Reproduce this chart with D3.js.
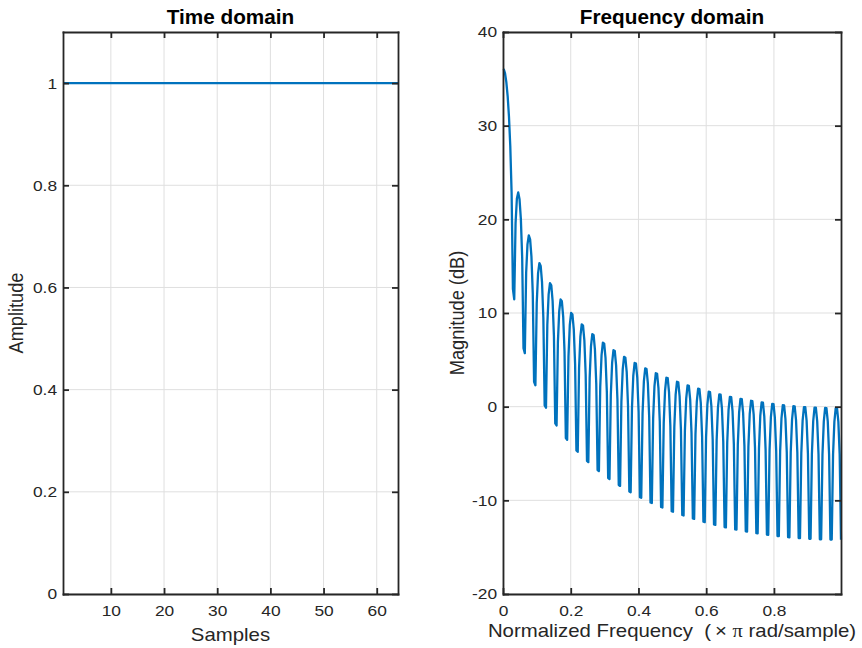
<!DOCTYPE html>
<html>
<head>
<meta charset="utf-8">
<script src="https://cdn.jsdelivr.net/npm/d3@7"></script>
<style>
  html, body { margin: 0; padding: 0; background: #fff; }
  svg { display: block; }
  text { font-family: "Liberation Sans", Arial, Helvetica, sans-serif; white-space: pre; }
</style>
</head>
<body>
<svg id="chart" width="862" height="648"></svg>
<script>
// Rectangular window: 64 samples of unit amplitude
const windowSamples = [
  1,1,1,1,1,1,1,1, 1,1,1,1,1,1,1,1, 1,1,1,1,1,1,1,1, 1,1,1,1,1,1,1,1,
  1,1,1,1,1,1,1,1, 1,1,1,1,1,1,1,1, 1,1,1,1,1,1,1,1, 1,1,1,1,1,1,1,1
];
const sampleTicks = [10, 20, 30, 40, 50, 60];
const amplitudeTicks = [0, 0.2, 0.4, 0.6, 0.8, 1];

// Magnitude response (dB) on 256 frequency bins across [0, 1) x pi rad/sample,
// one row per lobe (main lobe first, then 31 side lobes)
const magnitudeDb = [
  36.07, 35.62, 34.68, 33.19, 31.01, 27.83, 22.88, 12.55,
  11.46, 19.58, 22.22, 22.87, 22.14, 20.05, 15.92, 6.25,
  5.71, 14.29, 17.32, 18.29, 17.86, 16.02, 12.12, 2.65,
  2.29, 11.04, 14.22, 15.33, 15.02, 13.29, 9.50, 0.13,
  -0.12, 8.73, 12.00, 13.19, 12.96, 11.29, 7.54, -1.79,
  -2.01, 6.89, 10.21, 11.44, 11.25, 9.62, 5.92, -3.36,
  -3.54, 5.39, 8.74, 10.01, 9.84, 8.25, 4.58, -4.67,
  -4.82, 4.13, 7.50, 8.79, 8.66, 7.09, 3.44, -5.79,
  -5.92, 3.05, 6.44, 7.75, 7.63, 6.08, 2.45, -6.76,
  -6.87, 2.11, 5.51, 6.84, 6.73, 5.20, 1.58, -7.62,
  -7.72, 1.28, 4.70, 6.03, 5.94, 4.41, 0.81, -8.37,
  -8.46, 0.54, 3.97, 5.32, 5.23, 3.72, 0.13, -9.05,
  -9.13, -0.11, 3.32, 4.67, 4.60, 3.09, -0.50, -9.66,
  -9.73, -0.71, 2.73, 4.09, 4.02, 2.52, -1.06, -10.22,
  -10.28, -1.25, 2.20, 3.57, 3.50, 2.01, -1.56, -10.71,
  -10.77, -1.73, 1.72, 3.09, 3.04, 1.55, -2.02, -11.16,
  -11.22, -2.18, 1.28, 2.66, 2.61, 1.13, -2.43, -11.57,
  -11.62, -2.58, 0.89, 2.27, 2.23, 0.75, -2.80, -11.94,
  -11.98, -2.93, 0.53, 1.92, 1.88, 0.41, -3.15, -12.28,
  -12.32, -3.27, 0.21, 1.60, 1.56, 0.09, -3.45, -12.58,
  -12.62, -3.56, -0.08, 1.31, 1.28, -0.19, -3.73, -12.85,
  -12.89, -3.83, -0.35, 1.05, 1.02, -0.44, -3.98, -13.10,
  -13.12, -4.06, -0.58, 0.83, 0.80, -0.65, -4.19, -13.31,
  -13.33, -4.27, -0.78, 0.63, 0.60, -0.85, -4.38, -13.50,
  -13.52, -4.45, -0.96, 0.45, 0.42, -1.03, -4.56, -13.67,
  -13.69, -4.62, -1.12, 0.29, 0.27, -1.18, -4.70, -13.81,
  -13.83, -4.75, -1.26, 0.16, 0.14, -1.30, -4.83, -13.93,
  -13.95, -4.87, -1.37, 0.05, 0.04, -1.40, -4.92, -14.02,
  -14.04, -4.96, -1.46, -0.04, -0.05, -1.49, -5.01, -14.11,
  -14.11, -5.03, -1.53, -0.10, -0.11, -1.54, -5.06, -14.16,
  -14.16, -5.08, -1.57, -0.14, -0.15, -1.58, -5.09, -14.19,
  -14.19, -5.10, -1.59, -0.16, -0.16, -1.60, -5.11, -14.20
];
const binCount = 256;
const freqTicks = [0, 0.2, 0.4, 0.6, 0.8];
const dbTicks = [-20, -10, 0, 10, 20, 30, 40];

const AXIS_COLOR = "#262626";
const GRID_COLOR = "#dfdfdf";
const LINE_COLOR = "#0072BD";
const TEXT_STRETCH = 1.12;   // wide text rendering
const TICK_FONT = 15.5;
const LABEL_FONT = 18.2;
const TITLE_FONT = 19.5;

const svg = d3.select("#chart");
const plainNumber = f => d => f(d).replace("\u2212", "-");

function drawPanel(cfg) {
  const { x, y, xTicks, yTicks, xFormat, yFormat, points, title, xLabel, yLabel,
          xLabelY, yLabelX } = cfg;
  const [x0, x1] = x.range();
  const [y0, y1] = y.range(); // y0 bottom, y1 top
  const g = svg.append("g");

  // grid
  g.append("g").selectAll("line").data(xTicks).join("line")
    .attr("x1", d => x(d)).attr("x2", d => x(d))
    .attr("y1", y1).attr("y2", y0)
    .attr("stroke", GRID_COLOR).attr("stroke-width", 1);
  g.append("g").selectAll("line").data(yTicks).join("line")
    .attr("x1", x0).attr("x2", x1)
    .attr("y1", d => y(d)).attr("y2", d => y(d))
    .attr("stroke", GRID_COLOR).attr("stroke-width", 1);

  // data line
  g.append("path")
    .datum(points)
    .attr("fill", "none")
    .attr("stroke", LINE_COLOR)
    .attr("stroke-width", 2.3)
    .attr("stroke-linejoin", "round")
    .attr("d", d3.line().x(d => x(d[0])).y(d => y(d[1])));

  // box axes with inward ticks
  const styleAxis = sel => {
    sel.selectAll(".domain").attr("stroke", AXIS_COLOR).attr("stroke-width", 1.8)
      .attr("stroke-linecap", "square");
    sel.selectAll(".tick line").attr("stroke", AXIS_COLOR).attr("stroke-width", 1.8);
    sel.selectAll(".tick text").attr("fill", AXIS_COLOR)
      .style("font-size", TICK_FONT + "px")
      .attr("transform", `scale(${TEXT_STRETCH},1)`);
  };
  g.append("g").attr("transform", `translate(0,${y0})`)
    .call(d3.axisBottom(x).tickValues(xTicks).tickFormat(xFormat).tickSizeInner(-6).tickSizeOuter(0).tickPadding(10.5))
    .call(styleAxis);
  g.append("g").attr("transform", `translate(0,${y1})`)
    .call(d3.axisTop(x).tickValues(xTicks).tickFormat("").tickSizeInner(-6).tickSizeOuter(0))
    .call(styleAxis);
  g.append("g").attr("transform", `translate(${x0},0)`)
    .call(d3.axisLeft(y).tickValues(yTicks).tickFormat(yFormat).tickSizeInner(-6).tickSizeOuter(0).tickPadding(5.3))
    .call(styleAxis);
  g.append("g").attr("transform", `translate(${x1},0)`)
    .call(d3.axisRight(y).tickValues(yTicks).tickFormat("").tickSizeInner(-6).tickSizeOuter(0))
    .call(styleAxis);

  // titles and axis labels
  const cx = (x0 + x1) / 2, cy = (y0 + y1) / 2;
  g.append("g").attr("transform", `translate(${cx},24) scale(${TEXT_STRETCH * 0.95},1)`)
    .append("text").attr("text-anchor", "middle")
    .style("font-size", TITLE_FONT + "px").style("font-weight", "bold")
    .attr("fill", "#000").text(title);

  const xl = g.append("g").attr("transform", `translate(${cx},${xLabelY}) scale(${TEXT_STRETCH},1)`)
    .append("text").attr("text-anchor", "middle")
    .style("font-size", LABEL_FONT + "px").attr("fill", AXIS_COLOR);
  xLabel.forEach(part => {
    const t = xl.append("tspan").text(part.text);
    if (part.serif) t.style("font-family", "'Liberation Serif', 'DejaVu Serif', serif");
  });

  g.append("g").attr("transform", `translate(${yLabelX},${cy}) scale(${TEXT_STRETCH},1) rotate(-90)`)
    .append("text").attr("text-anchor", "middle")
    .style("font-size", LABEL_FONT + "px").attr("fill", AXIS_COLOR).text(yLabel);
}

// Time domain panel
const xTime = d3.scaleLinear().domain([1, windowSamples.length]).range([63, 398]);
const yAmp = d3.scaleLinear().domain([0, 1.1]).range([594, 32]);
drawPanel({
  x: xTime, y: yAmp,
  xTicks: sampleTicks, yTicks: amplitudeTicks,
  xFormat: d3.format("d"), yFormat: plainNumber(d3.format("~g")),
  points: windowSamples.map((v, i) => [i + 1, v]),
  title: "Time domain",
  xLabel: [{ text: "Samples" }], xLabelY: 641,
  yLabel: "Amplitude", yLabelX: 23
});

// Frequency domain panel
const binFreq = magnitudeDb.map((_, i) => (i + 0.5) / binCount);
const xFreq = d3.scaleLinear().domain([0, binFreq[binFreq.length - 1]]).range([503, 841]);
const yDb = d3.scaleLinear().domain([-20, 40]).range([594, 32]);
drawPanel({
  x: xFreq, y: yDb,
  xTicks: freqTicks, yTicks: dbTicks,
  xFormat: plainNumber(d3.format("~g")), yFormat: plainNumber(d3.format("d")),
  points: magnitudeDb.map((v, i) => [binFreq[i], v]),
  title: "Frequency domain",
  xLabel: [
    { text: "Normalized Frequency  (\u2009\u00d7 " },
    { text: "\u03c0", serif: true },
    { text: " rad/sample)" }
  ], xLabelY: 637,
  yLabel: "Magnitude (dB)", yLabelX: 464
});
</script>
</body>
</html>
